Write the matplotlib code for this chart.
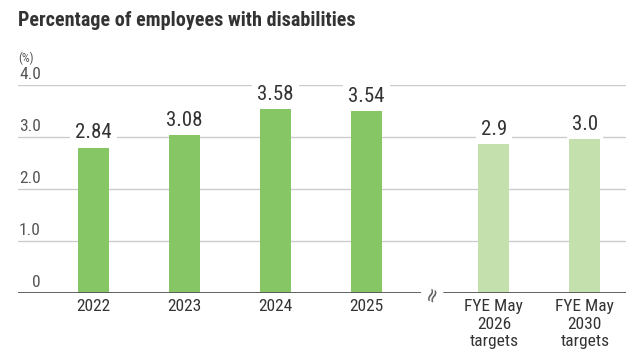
import matplotlib
matplotlib.use("Agg")
import matplotlib.pyplot as plt

plt.rcParams['font.family'] = ['Roboto Condensed', 'DejaVu Sans']

categories = ["2022", "2023", "2024", "2025", "FYE May\n2026\ntargets", "FYE May\n2030\ntargets"]
values = [2.84, 3.08, 3.58, 3.54, 2.9, 3.0]
value_labels = ["2.84", "3.08", "3.58", "3.54", "2.9", "3.0"]
positions = [0, 1, 2, 3, 4.4, 5.4]
is_target = [False, False, False, False, True, True]
yticks = [0, 1, 2, 3, 4]
ytick_labels = ["0", "1.0", "2.0", "3.0", "4.0"]

W, H = 626, 359
fig = plt.figure(figsize=(W / 100, H / 100), dpi=100)
x0_px, x1_px = 18, 626
y0_px, y4_px = 293, 85
ax = fig.add_axes([x0_px / W, (H - y0_px) / H, (x1_px - x0_px) / W, (y0_px - y4_px) / H])
unit = 91.0
ax.set_xlim((x0_px - 93.5) / unit, (x1_px - 93.5) / unit)
ax.set_ylim(0, 4)
for s in ax.spines.values():
    s.set_visible(False)
ax.set_xticks([])
ax.set_yticks([])

text_col = "#333333"
for t in yticks[1:]:
    ax.axhline(t, color="#cccccc", lw=1, zorder=0)
ax.axhline(0, color="#555555", lw=1.3, zorder=3)

for t, lab in zip(yticks, ytick_labels):
    ax.annotate(lab, xy=(0, t), xycoords=("axes fraction", "data"),
                xytext=(23, 3), textcoords="offset pixels",
                ha="right", va="bottom", fontsize=12.5, color="#555555")
ax.annotate("(%)", xy=(0, 4), xycoords=("axes fraction", "data"),
            xytext=(0, 20), textcoords="offset pixels", ha="left", va="bottom",
            fontsize=9, color="#555555")

dark, light = "#86c665", "#c3e0ad"
for p, v, lab, tg in zip(positions, values, value_labels, is_target):
    ax.bar(p, v, width=31 / unit, color=light if tg else dark, zorder=2)
    ax.annotate(lab, xy=(p, v), xytext=(0, 3), textcoords="offset pixels",
                ha="center", va="bottom", fontsize=15, color=text_col, zorder=4,
                bbox=dict(boxstyle="square,pad=0.25", fc="white", ec="none"))

for p, c in zip(positions, categories):
    ax.annotate(c, xy=(p, 0), xytext=(0, -6), textcoords="offset pixels",
                ha="center", va="top", fontsize=12.5, color=text_col, linespacing=1.22)

# axis break symbol
ax.annotate("≈", xy=((positions[3] + positions[4]) / 2 + 0.02, 0), xytext=(0, 0),
            textcoords="offset pixels", ha="center", va="center", rotation=70,
            fontsize=14, color="#555555", zorder=5, family="DejaVu Sans",
            bbox=dict(boxstyle="square,pad=0.05", fc="white", ec="none"))

fig.text(18 / W, 1 - 20 / H, "Percentage of employees with disabilities",
         ha="left", va="center", fontsize=14.5, fontweight="bold", color="#333333")

fig.savefig("out.png", dpi=100)
